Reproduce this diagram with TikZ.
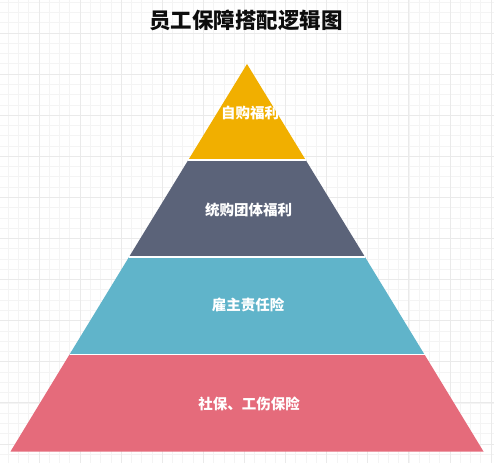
\documentclass[tikz,border=0pt]{standalone}
\usepackage{fontspec}
\newfontfamily\cjk{Noto Sans CJK SC}
\definecolor{cyellow}{HTML}{F1AF00}
\definecolor{cslate}{HTML}{5B6379}
\definecolor{cteal}{HTML}{60B4CA}
\definecolor{cred}{HTML}{E56B7B}
\definecolor{gridminor}{HTML}{F4F4F4}
\definecolor{gridmajor}{HTML}{EAEAEA}
\tikzset{
  layer/.style={draw=white, line width=1pt, line join=miter},
  lbl/.style={text=white, font=\cjk\bfseries\fontsize{14.5}{16}\selectfont, inner sep=0pt},
  ttl/.style={text=black!95, font=\cjk\bfseries\fontsize{21.5}{24}\selectfont, inner sep=0pt}
}
\begin{document}
\begin{tikzpicture}[x=1pt,y=-1pt]
\useasboundingbox (0,0) rectangle (494,463);
\fill[white] (0,0) rectangle (494,463);
% grid
\foreach \k in {0,...,47} {
  \draw[gridminor, line width=0.8pt] ({8.175+10.275*\k},0) -- ({8.175+10.275*\k},463);
}
\foreach \k in {0,...,45} {
  \draw[gridminor, line width=0.8pt] (0,{2.175+10.275*\k}) -- (494,{2.175+10.275*\k});
}
\foreach \k in {0,...,11} {
  \draw[gridmajor, line width=1pt] ({39+41.1*\k},0) -- ({39+41.1*\k},463);
  \draw[gridmajor, line width=1pt] (0,{33+41.1*\k}) -- (494,{33+41.1*\k});
}
% pyramid corners
\coordinate (apex) at (247,64);
\coordinate (l1) at (188.3,160);  \coordinate (r1) at (305.7,160);
\coordinate (l2) at (129.0,257);  \coordinate (r2) at (365.0,257);
\coordinate (l3) at (69.5,354.5); \coordinate (r3) at (424.5,354.5);
\coordinate (l4) at (10.5,451.5); \coordinate (r4) at (483.5,451.5);
\fill[cred]    (l3) -- (r3) -- (r4) -- (l4) -- cycle;
\fill[cteal]   (l2) -- (r2) -- (r3) -- (l3) -- cycle;
\fill[cslate]  (l1) -- (r1) -- (r2) -- (l2) -- cycle;
\fill[cyellow] (apex) -- (r1) -- (l1) -- cycle;
\draw[white, line width=1.2pt] (l1) -- (r1);
\draw[white, line width=1.2pt] (l2) -- (r2);
\draw[white, line width=1.2pt] (l3) -- (r3);
% labels
\node[ttl] (title) at (246,20) {员工保障搭配逻辑图};
\node[lbl] (t1) at (250,113) {自购福利};
\node[lbl] (t2) at (248.5,210) {统购团体福利};
\node[lbl] (t3) at (248,305) {雇主责任险};
\node[lbl] (t4) at (249,404) {社保、工伤保险};
\end{tikzpicture}
\end{document}
